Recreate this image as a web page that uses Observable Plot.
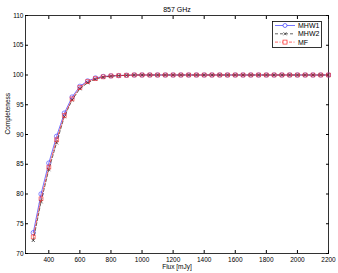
<!DOCTYPE html>
<html><head><meta charset="utf-8">
<script src="https://cdn.jsdelivr.net/npm/d3@7"></script>
<script src="https://cdn.jsdelivr.net/npm/@observablehq/plot@0.6"></script>
<style>
body{margin:0;background:#fff;font-family:"Liberation Sans",Arial,sans-serif;}
#wrap{position:relative;width:338px;height:273px;}
#legend{position:absolute;left:272px;top:21px;}
</style></head>
<body><div id="wrap"></div>
<script>
const flux = [300,350,400,450,500,550,600,650,700,750,800,850,900,950,1000,1050,1100,1150,1200,1250,1300,1350,1400,1450,1500,1550,1600,1650,1700,1750,1800,1850,1900,1950,2000,2050,2100,2150,2200];
const mhw1 = [73.5,80.0,85.2,89.7,93.6,96.3,98.1,99.0,99.5,99.75,99.85,99.9,99.95,100,100,100,100,100,100,100,100,100,100,100,100,100,100,100,100,100,100,100,100,100,100,100,100,100,100];
const mhw2 = [72.2,78.7,84.1,88.6,93.0,95.8,97.7,98.7,99.3,99.65,99.8,99.9,99.95,100,100,100,100,100,100,100,100,100,100,100,100,100,100,100,100,100,100,100,100,100,100,100,100,100,100];
const mf   = [72.8,79.2,84.5,89.1,93.2,96.0,97.9,98.9,99.4,99.7,99.85,99.9,99.95,100,100,100,100,100,100,100,100,100,100,100,100,100,100,100,100,100,100,100,100,100,100,100,100,100,100];
const xTicks = [400,600,800,1000,1200,1400,1600,1800,2000,2200];
const yTicks = [70,75,80,85,90,95,100,105,110];
const seriesNames = ["MHW1","MHW2","MF"];
const colors = {MHW1:"#3b3bff", MHW2:"#222222", MF:"#ff2a2a"};

const d1 = flux.map((f,i)=>({f, v:mhw1[i]}));
const d2 = flux.map((f,i)=>({f, v:mhw2[i]}));
const d3_ = flux.map((f,i)=>({f, v:mf[i]}));
const fmt = d3.format("d");

const chart = Plot.plot({
  width:338, height:273,
  marginLeft:25, marginRight:10, marginTop:15, marginBottom:20,
  style:{fontFamily:"Liberation Sans, Arial, sans-serif", fontSize:"6.5px", color:"#000", background:"#fff"},
  x:{domain:[250,2200]},
  y:{domain:[70,110]},
  marks:[
    Plot.frame({stroke:"#000", strokeWidth:0.8}),
    Plot.axisX({anchor:"bottom", ticks:xTicks, tickSize:-3, tickPadding:7, tickFormat:fmt, label:null, fontSize:6.5}),
    Plot.axisX({anchor:"top", ticks:xTicks, tickSize:-3, tickFormat:()=>"", label:null}),
    Plot.axisY({anchor:"left", ticks:yTicks, tickSize:-3, tickPadding:5, tickFormat:fmt, label:null, fontSize:6.5}),
    Plot.axisY({anchor:"right", ticks:yTicks, tickSize:-3, tickFormat:()=>"", label:null}),
    Plot.line(d1,{x:"f",y:"v",stroke:colors.MHW1,strokeWidth:0.7}),
    Plot.dot(d1,{x:"f",y:"v",stroke:colors.MHW1,symbol:"circle",r:2.2,strokeWidth:0.6}),
    Plot.line(d2,{x:"f",y:"v",stroke:colors.MHW2,strokeWidth:0.7,strokeDasharray:"3,2"}),
    Plot.dot(d2,{x:"f",y:"v",stroke:colors.MHW2,symbol:"times",r:1.6,strokeWidth:0.7}),
    Plot.line(d3_,{x:"f",y:"v",stroke:colors.MF,strokeWidth:0.7,strokeDasharray:"3,1.5,1,1.5"}),
    Plot.dot(d3_,{x:"f",y:"v",stroke:colors.MF,symbol:"square",r:2.2,strokeWidth:0.6}),
    Plot.text(["857 GHz"],{frameAnchor:"top",dy:-8,fontSize:7}),
    Plot.text(["Flux [mJy]"],{frameAnchor:"bottom",dy:15,fontSize:6.5}),
    Plot.text(["Completeness"],{frameAnchor:"left",dx:-18,rotate:-90,fontSize:6.5})
  ]
});
document.getElementById("wrap").appendChild(chart);

// legend
const ns="http://www.w3.org/2000/svg";
const lg=document.createElementNS(ns,"svg");
lg.setAttribute("id","legend");lg.setAttribute("width","51");lg.setAttribute("height","28");
const rect=document.createElementNS(ns,"rect");
Object.entries({x:0.5,y:0.5,width:49,height:26,fill:"#fff",stroke:"#000","stroke-width":0.8}).forEach(([k,v])=>rect.setAttribute(k,v));
lg.appendChild(rect);
const dashes={MHW1:null,MHW2:"3,2",MF:"3,1.5,1,1.5"};
seriesNames.forEach((n,i)=>{
  const y=4.5+i*8.3;
  const l=document.createElementNS(ns,"line");
  Object.entries({x1:3,x2:23,y1:y,y2:y,stroke:colors[n],"stroke-width":0.7}).forEach(([k,v])=>l.setAttribute(k,v));
  if(dashes[n]) l.setAttribute("stroke-dasharray",dashes[n]);
  lg.appendChild(l);
  let m;
  if(n==="MHW1"){m=document.createElementNS(ns,"circle");m.setAttribute("cx",13);m.setAttribute("cy",y);m.setAttribute("r",2);}
  else if(n==="MF"){m=document.createElementNS(ns,"rect");m.setAttribute("x",11);m.setAttribute("y",y-2);m.setAttribute("width",4);m.setAttribute("height",4);}
  else {m=document.createElementNS(ns,"path");m.setAttribute("d",`M11.5,${y-1.5}L14.5,${y+1.5}M11.5,${y+1.5}L14.5,${y-1.5}`);}
  m.setAttribute("fill",n==="MHW2"?"none":"#fff");m.setAttribute("stroke",colors[n]);m.setAttribute("stroke-width",0.7);
  lg.appendChild(m);
  const t=document.createElementNS(ns,"text");
  t.setAttribute("x",26);t.setAttribute("y",y+2.4);t.setAttribute("font-size","7");t.setAttribute("font-family","Liberation Sans, Arial, sans-serif");
  t.textContent=n;lg.appendChild(t);
});
document.getElementById("wrap").appendChild(lg);
</script></body></html>
